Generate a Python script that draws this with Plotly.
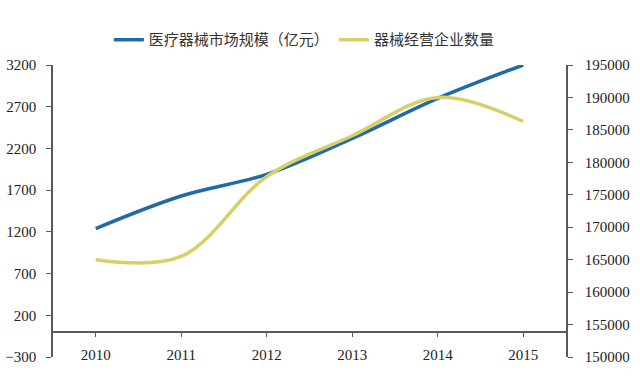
import plotly.graph_objects as go

years = ["2010", "2011", "2012", "2013", "2014", "2015"]
market_size = [1240, 1630, 1890, 2320, 2800, 3200]
company_count = [165000, 165500, 177800, 184100, 190000, 186300]

name_market = "医疗器械市场规模（亿元）"
name_count = "器械经营企业数量"

left_range = [-300, 3200]
right_range = [150000, 195000]

blue = "#1F6AA8"
yellow = "#D9CF68"
axis_color = "#595959"
tick_font = dict(family="Liberation Serif, Times New Roman, serif", size=15, color="#222222")

fig = go.Figure()
fig.add_trace(go.Scatter(x=years, y=market_size, name=name_market, mode="lines",
                         line=dict(color=blue, width=3.5, shape="spline", smoothing=1.0),
                         yaxis="y"))
fig.add_trace(go.Scatter(x=years, y=company_count, name=name_count, mode="lines",
                         line=dict(color=yellow, width=3.5, shape="spline", smoothing=1.0),
                         yaxis="y2"))

zero_pos = (0 - left_range[0]) / (left_range[1] - left_range[0])

fig.update_layout(
    width=640, height=382,
    paper_bgcolor="white", plot_bgcolor="white",
    margin=dict(l=53, r=74, t=65, b=25, autoexpand=False),
    showlegend=True,
    legend=dict(orientation="h", x=0.49, xanchor="center", y=1.086, yanchor="middle",
                font=dict(family="Noto Sans CJK SC", size=15, color="#333333"),
                itemwidth=30, bgcolor="rgba(0,0,0,0)"),
    xaxis=dict(type="category", range=[-0.5, 5.5], anchor="free", position=zero_pos,
               showline=True, linecolor=axis_color, linewidth=1.5,
               ticks="outside", ticklen=4, tickcolor=axis_color,
               showgrid=False, zeroline=False, tickfont=tick_font,
               ticklabelstandoff=5, automargin=False),
    yaxis=dict(range=left_range, tick0=-300, dtick=500, showline=True,
               linecolor=axis_color, linewidth=1.5, ticks="outside", ticklen=5,
               tickcolor=axis_color, showgrid=False, zeroline=False,
               tickfont=tick_font, ticklabelstandoff=7, automargin=False),
    yaxis2=dict(range=right_range, dtick=5000, tickformat="d", overlaying="y", side="right",
                showline=True, linecolor=axis_color, linewidth=1.5,
                ticks="outside", ticklen=5, tickcolor=axis_color,
                showgrid=False, zeroline=False, tickfont=tick_font,
                ticklabelstandoff=9, automargin=False),
)

fig.write_html("out.html", config={"displayModeBar": False},
               post_script="document.body.style.margin='0';")
